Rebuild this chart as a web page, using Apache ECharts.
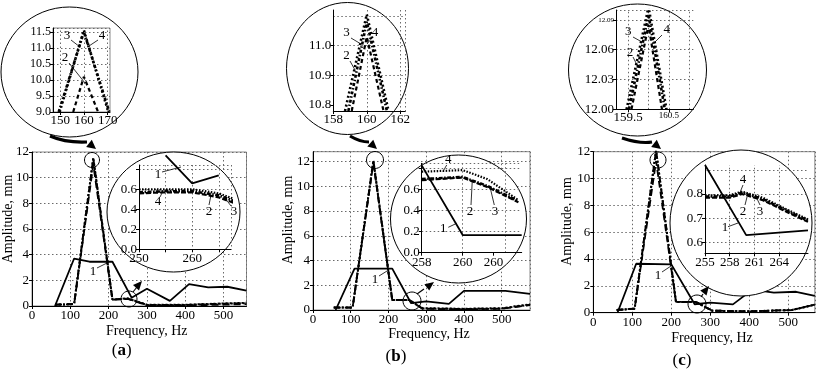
<!DOCTYPE html>
<html><head><meta charset="utf-8">
<script src="https://cdn.jsdelivr.net/npm/echarts@6/dist/echarts.min.js"></script>
<style>html,body{margin:0;padding:0;background:#fff}#c{width:818px;height:371px}</style>
</head><body><div id="c"></div>
<script>
// ---------------- DATA ----------------
// Panel (a) main
const aFreqSolid = [60,110,150,210,260,300,360,410,460,510,560];
const aAmpSolid  = [0,3.7,3.45,3.45,0.65,1.35,0.4,1.7,1.45,1.5,1.2];
const aFreqRes   = [60,110,160,210,250,300,400,500,560];
const aAmp2      = [0.1,0.15,11.0,0.5,0.55,0.05,0.05,0.1,0.15];
const aAmp3      = [0.1,0.15,11.55,0.5,0.6,0.1,0.1,0.2,0.25];
const aAmp4      = [0.1,0.15,11.5,0.5,0.58,0.08,0.08,0.18,0.22];
// Panel (a) top inset
const aTopF3 = [149.8,160,170.3], aTopA3 = [9.0,11.55,9.0];
const aTopF4 = [149.4,160,170.7], aTopA4 = [9.0,11.5,9.0];
const aTopF2 = [155.5,160,166.0], aTopA2 = [9.0,10.1,9.0];
const aTopXTicks = [150,160,170];
// Panel (a) round inset
const aZoomSolidF = [255,260,265], aZoomSolidA = [0.94,0.66,0.74];
const aZoomF  = [250,255,260,265,268];
const aZoom2  = [0.56,0.57,0.57,0.52,0.46];
const aZoom3  = [0.60,0.60,0.60,0.56,0.50];
const aZoom4  = [0.57,0.58,0.58,0.54,0.48];

// Panel (b) main
const bFreqSolid = [60,110,210,260,300,360,400,510,575];
const bAmpSolid  = [0,3.35,3.35,0.55,0.7,0.5,1.55,1.55,1.3];
const bFreqRes   = [55,105,160,210,255,290,400,500,575];
const bAmp2      = [0.2,0.2,11.9,0.8,0.8,0.1,0.05,0.1,0.4];
const bAmp3      = [0.2,0.2,12.1,0.8,0.8,0.15,0.1,0.15,0.45];
const bAmp4      = [0.2,0.2,12.05,0.8,0.8,0.12,0.08,0.12,0.42];
// Panel (b) top inset
const bTopF3 = [158.7,160,161.3], bTopA3 = [10.78,11.105,10.78];
const bTopF4 = [158.9,160,161.2], bTopA4 = [10.78,11.08,10.78];
const bTopF2 = [159.1,160,161.0], bTopA2 = [10.78,11.03,10.78];
const bTopYTicks = [10.8,10.9,11.0];
const bTopYGrid  = [10.9,11.0,11.1];
// Panel (b) round inset (x in tick-index units)
const bZoomTickPos   = [0,1,1.75];
const bZoomTickLabels = ['258','260','260'];
const bZoomXGrid = [1,2.05];
const bZoomSolidX = [0,1,2.44], bZoomSolidA = [0.83,0.168,0.168];
const bZoomX  = [0,1,1.6,2.36];
const bZoom2  = [0.69,0.715,0.625,0.48];
const bZoom3  = [0.70,0.72,0.635,0.49];
const bZoom4  = [0.77,0.785,0.70,0.50];

// Panel (c) main
const cFreqSolid = [62,110,200,260,300,358,408,463,520,568];
const cAmpSolid  = [0,3.65,3.6,0.63,0.75,0.62,1.72,1.5,1.56,1.25];
const cFreqRes   = [60,106,161,212,263,305,400,510,568];
const cAmp2      = [0.2,0.3,11.3,0.8,0.8,0.15,0.1,0.2,0.6];
const cAmp3      = [0.2,0.3,12.1,0.8,0.8,0.15,0.1,0.2,0.6];
const cAmp4      = [0.2,0.3,12.09,0.8,0.8,0.15,0.1,0.2,0.6];
// Panel (c) top inset
const cTopF3 = [159.46,160,160.44], cTopA3 = [12.0,12.103,12.0];
const cTopF4 = [159.52,160,160.40], cTopA4 = [12.0,12.095,12.0];
const cTopF2 = [159.58,160,160.33], cTopA2 = [12.0,12.085,12.0];
const cTopXTicks = [159.5,160,160.5];
const cTopXGrid  = [159.5,160,160.5,161];
// Panel (c) round inset
const cZoomSolidF = [255,260,267.5], cZoomSolidA = [0.92,0.63,0.65];
const cZoomF  = [255,258,259.5,262,265,267.5];
const cZoom2  = [0.785,0.785,0.80,0.775,0.725,0.685];
const cZoom3  = [0.79,0.79,0.805,0.78,0.73,0.69];
const cZoom4  = [0.795,0.795,0.81,0.785,0.735,0.695];
const cZoomXTicks = [255,258,261,264];
const cZoomXGrid  = [258,261,264];
const cZoomYTicks = [0.6,0.7,0.8];
const cZoomYGrid  = [0.6,0.7,0.8,0.9];

// ---------------- BUILD ----------------
const FONT = 'Liberation Serif';
const grids=[], xAxes=[], yAxes=[], series=[], gfx=[];
const GRIDC = '#6a6a6a';

function makeAxis(a, gi, z){
  const ax = {type:'value', gridIndex:gi, min:a.min, max:a.max, z:z,
    axisLine:{show:true, onZero:false, lineStyle:{color:'#000', width:1}},
    axisTick:{show:true, inside:false, length:3, lineStyle:{color:'#000'}},
    axisLabel:{color:'#000', fontFamily:FONT, fontSize:a.fs||13, margin:a.margin!=null?a.margin:3,
               showMinLabel:true, showMaxLabel:a.showMax!==false, hideOverlap:false},
    splitLine:{show:true, lineStyle:{type:[1.5,2.5], color:GRIDC, width:1}}
  };
  if (a.interval!=null) ax.interval=a.interval;
  if (a.ticks){ ax.axisLabel.customValues=a.ticks; ax.axisTick.customValues=a.ticks; ax.splitLine.show=false; }
  if (a.fmt) ax.axisLabel.formatter=a.fmt;
  if (a.rich) ax.axisLabel.rich=a.rich;
  return ax;
}
function plot(o){
  const gi = grids.length;
  grids.push({left:o.l, top:o.t, width:o.w, height:o.h, show:!!o.frame, borderColor:'#8a8a8a',
              borderWidth:1, backgroundColor:'transparent', z:o.z});
  xAxes.push(makeAxis(o.x, gi, o.z));
  yAxes.push(makeAxis(o.y, gi, o.z));
  return gi;
}
function line(gi, xs, ys, style, z, extra){
  series.push(Object.assign({type:'line', xAxisIndex:gi, yAxisIndex:gi,
    data: xs.map((x,i)=>[x, ys[i]]), symbol:'none', lineStyle:style, z:z,
    animation:false, silent:true}, extra||{}));
}
function gridLines(key, vals, key2, vals2){
  const data = vals.map(v=>({[key]:v}));
  if (key2) vals2.forEach(v=>data.push({[key2]:v}));
  return {silent:true, symbol:['none','none'], label:{show:false}, animation:false,
    lineStyle:{type:[1.5,2.5], color:GRIDC, width:1}, data};
}
const S1 = {color:'#000', width:1.8, type:'solid'};
const S2 = {color:'#000', width:1.8, type:[7,4]};
const S3 = {color:'#000', width:2, type:[2,2]};
const S4 = {color:'#000', width:2, type:[6,2,2,2]};
const T3 = {color:'#000', width:2.6, type:[2,2.5]};
const T4 = {color:'#000', width:2.6, type:[3,2,1.5,2]};
const T2 = {color:'#000', width:2.2, type:[4,3]};
const Z3 = {color:'#000', width:2.2, type:[1.5,1.5]};
const Z4 = {color:'#000', width:2.6, type:[4,1.5,1.5,1.5]};
const Z2 = {color:'#000', width:2.2, type:[5,2]};

const fmt1 = v => (+v).toFixed(1);

// graphics helpers
function ell(cx,cy,rx,ry,fill,z,lw){ gfx.push({type:'ellipse', shape:{cx,cy,rx,ry}, style:{fill:fill||'none', stroke:'#000', lineWidth:lw||1}, z:z, silent:true}); }
function txt(x,y,s,size,z,opt){ gfx.push(Object.assign({type:'text', x, y, z:z, silent:true,
  style:Object.assign({text:s, fontFamily:FONT, fontSize:size, fill:'#000', align:'center', verticalAlign:'middle'}, (opt&&opt.style)||{})},
  opt&&opt.rotation!=null?{rotation:opt.rotation}:{})); }
function seg(x1,y1,x2,y2,z,w){ gfx.push({type:'line', shape:{x1,y1,x2,y2}, style:{stroke:'#000', lineWidth:w||0.8}, z:z, silent:true}); }
function arrowHead(tx,ty,fx,fy,len,hw,z){
  const dx=tx-fx, dy=ty-fy, n=Math.hypot(dx,dy), ux=dx/n, uy=dy/n;
  const bx=tx-ux*len, by=ty-uy*len;
  gfx.push({type:'polygon', shape:{points:[[tx,ty],[bx-uy*hw,by+ux*hw],[bx+uy*hw,by-ux*hw]]}, style:{fill:'#000'}, z:z, silent:true});
}
function curve(x1,y1,cx,cy,x2,y2,w,z){ gfx.push({type:'bezierCurve', shape:{x1,y1,x2,y2,cpx1:cx,cpy1:cy}, style:{stroke:'#000', lineWidth:w, fill:'none'}, z:z, silent:true}); }

// ---------- Panel (a) ----------
const ga = plot({l:32, t:152, w:214.5, h:154, frame:true, z:0,
  x:{min:0, max:560, interval:100, showMax:false}, y:{min:0, max:12, interval:2}});
line(ga, aFreqRes, aAmp3, S3, 2);
line(ga, aFreqRes, aAmp4, S4, 2);
line(ga, aFreqRes, aAmp2, S2, 2);
line(ga, aFreqSolid, aAmpSolid, S1, 3);

const gaTop = plot({l:53, t:28, w:57, h:84, frame:true, z:6,
  x:{min:147, max:171, ticks:aTopXTicks, fs:13, margin:2},
  y:{min:9, max:11.62, interval:0.5, fmt:fmt1, fs:12, margin:2, showMax:false}});
line(gaTop, aTopF3, aTopA3, T3, 7, {markLine: gridLines('xAxis', aTopXTicks)});
line(gaTop, aTopF4, aTopA4, T4, 7);
line(gaTop, aTopF2, aTopA2, T2, 7);

const gaZ = plot({l:139, t:165, w:92, h:84.3, frame:false, z:6,
  x:{min:250, max:267.3, interval:5, fmt:v=> (v%10===0? String(v):''), fs:13, margin:3, showMax:false},
  y:{min:0, max:0.843, interval:0.2, fmt:v=> (v>0.7?'':fmt1(v)), fs:13, margin:2, showMax:false}});
line(gaZ, aZoomF, aZoom3, Z3, 7);
line(gaZ, aZoomF, aZoom4, Z4, 7);
line(gaZ, aZoomF, aZoom2, Z2, 7);
line(gaZ, aZoomSolidF, aZoomSolidA, S1, 8, {clip:false});

// ---------- Panel (b) ----------
const gb = plot({l:313, t:151.7, w:217, h:158.3, frame:true, z:0,
  x:{min:0, max:575, interval:100, showMax:false}, y:{min:0, max:12.8, interval:2, showMax:false}});
line(gb, bFreqRes, bAmp3, S3, 2);
line(gb, bFreqRes, bAmp4, S4, 2);
line(gb, bFreqRes, bAmp2, S2, 2);
line(gb, bFreqSolid, bAmpSolid, S1, 3);

const gbTop = plot({l:333.3, t:10, w:72, h:101, frame:false, z:6,
  x:{min:158, max:162.3, interval:2, fs:13, margin:2, showMax:false},
  y:{min:10.78, max:11.12, ticks:bTopYTicks, fmt:fmt1, fs:13, margin:2}});
line(gbTop, bTopF3, bTopA3, T3, 7, {markLine: gridLines('yAxis', bTopYGrid)});
line(gbTop, bTopF4, bTopA4, T4, 7);
line(gbTop, bTopF2, bTopA2, T2, 7);

const gbZ = plot({l:421.7, t:163.3, w:100, h:89.4, frame:false, z:6,
  x:{min:0, max:2.44, ticks:bZoomTickPos, fmt:v=>{const i=bZoomTickPos.indexOf(+v); return i>=0?bZoomTickLabels[i]:'';}, fs:13, margin:3},
  y:{min:0, max:0.85, interval:0.2, fmt:v=> (v>0.7?'':fmt1(v)), fs:13, margin:2, showMax:false}});
line(gbZ, bZoomX, bZoom4, Z3, 7, {markLine: gridLines('xAxis', bZoomXGrid)});
line(gbZ, bZoomX, bZoom3, Z4, 7);
line(gbZ, bZoomX, bZoom2, Z2, 7);
line(gbZ, bZoomSolidX, bZoomSolidA, S1, 8);

// ---------- Panel (c) ----------
const gc = plot({l:593.3, t:151.7, w:221.5, h:161, frame:true, z:0,
  x:{min:0, max:568, interval:100, showMax:false}, y:{min:0, max:12, interval:2}});
line(gc, cFreqRes, cAmp3, S3, 2);
line(gc, cFreqRes, cAmp4, S4, 2);
line(gc, cFreqRes, cAmp2, S2, 2);
line(gc, cFreqSolid, cAmpSolid, S1, 3);

const gcTop = plot({l:616, t:10, w:77.3, h:99.3, frame:false, z:6,
  x:{min:159.2, max:161.1, ticks:cTopXTicks, fs:13, margin:2,
     fmt:v=> (+v===160.5? '{s|160.5}' : String(v)), rich:{s:{fontSize:9, fontFamily:FONT, color:'#000'}}},
  y:{min:12.0, max:12.1, interval:0.03, fs:13, margin:2, showMax:false,
     fmt:v=> { const s=(+v).toFixed(2); return s==='12.09' ? '{s|12.09}' : s; }, rich:{s:{fontSize:7, fontFamily:FONT, color:'#000'}}}});
line(gcTop, cTopF3, cTopA3, T3, 7, {markLine: gridLines('xAxis', cTopXGrid)});
line(gcTop, cTopF4, cTopA4, T4, 7);
line(gcTop, cTopF2, cTopA2, T2, 7);

const gcZ = plot({l:705, t:165, w:103, h:88.3, frame:false, z:6,
  x:{min:255, max:267.5, ticks:cZoomXTicks, fs:13, margin:3},
  y:{min:0.555, max:0.92, ticks:cZoomYTicks, fmt:fmt1, fs:13, margin:2}});
line(gcZ, cZoomF, cZoom4, Z3, 7, {markLine: gridLines('yAxis', cZoomYGrid, 'xAxis', cZoomXGrid)});
line(gcZ, cZoomF, cZoom3, Z4, 7);
line(gcZ, cZoomF, cZoom2, Z2, 7);
line(gcZ, cZoomSolidF, cZoomSolidA, S1, 8);

// ---------- Decorations ----------
// magnifier circles (white filled, behind insets)
ell(69.5, 72, 68.5, 65, '#fff', 5, 1);
ell(347.5, 68.5, 61, 66, '#fff', 5, 1);
ell(637.5, 70, 69, 66, '#fff', 5, 1);
ell(173.5, 212, 66.5, 60, '#fff', 5, 1);
ell(458.5, 219, 68, 64, '#fff', 5, 1);
ell(741, 223, 71, 73, '#fff', 5, 1);
// small circles on main curves
ell(92, 160, 7.5, 7.5, null, 4, 1);
ell(129, 299, 8, 8, null, 4, 1);
ell(375, 160, 8.5, 8.5, null, 4, 1);
ell(412, 301, 9, 9, null, 4, 1);
ell(658, 160, 8, 8, null, 4, 1);
ell(697, 304, 9, 9, null, 4, 1);
// arrows from top magnifiers to peaks
curve(50,136, 66,143, 87,142, 3.2, 9); arrowHead(96,149, 86,141, 9, 4.5, 9);
curve(350,136, 360,142, 369,142, 3.2, 9); arrowHead(377,149, 368,141, 9, 4.5, 9);
curve(622,138, 640,144, 652,142, 3.2, 9); arrowHead(661,149, 651,141, 9, 4.5, 9);
// arrows from low circles to round insets
seg(133,292, 137,287, 9, 1.2); arrowHead(142,281, 134,290, 9, 4, 9);
seg(417,294, 424,289, 9, 1.2); arrowHead(434,282, 422,291, 9, 4, 9);
seg(701,297, 703,294, 9, 1.2); arrowHead(709,286, 701,296, 9, 4, 9);

// curve labels - main plots
txt(93,272,'1',13,10); seg(97,268,109,262,10);
txt(375,280,'1',13,10); seg(379,276,387,271,10);
txt(658,276,'1',13,10); seg(662,272,671,266,10);
// top insets
txt(67,36,'3',13,10); seg(71,40,80,47,10);
txt(102,36,'4',13,10); seg(98,40,89,46,10);
txt(65,58,'2',13,10); seg(69,63,85,83,10);
txt(346.5,33,'3',13,10); seg(351,38,361,44,10);
txt(375,33,'4',13,10); seg(372,38,367,44,10);
txt(346.5,56,'2',13,10); seg(350,61,355,70,10);
txt(628.3,32,'3',13,10); seg(633,37,642,42,10);
txt(666.7,30,'4',13,10); seg(662,35,655,42,10);
txt(630,53,'2',13,10); seg(633,57,638,67,10);
// round insets
txt(158,175,'1',13,10); seg(162,172,181,167,10);
txt(158,202,'4',13,10); seg(160,197,162,193,10);
txt(209,212,'2',13,10); seg(209,205,211,195,10);
txt(234,212,'3',13,10); seg(231,206,225,198,10);
txt(448.3,160,'4',13,10); seg(446.7,165,443,171.5,10);
txt(470,212,'2',13,10); seg(471,205,472.3,180,10);
txt(495,212,'3',13,10); seg(494.3,205,490,187,10);
txt(443.3,228.5,'1',13,10); seg(448.3,227.3,456.7,223.3,10);
txt(743,180,'4',13,10); seg(743,185,740,192.5,10);
txt(743,212,'2',13,10); seg(745,205,747,197,10);
txt(760,212,'3',13,10); seg(760,205,756.7,198,10);
txt(725,228,'1',13,10); seg(728,226.7,738,223,10);

// axis titles
txt(146.7,331,'Frequency, Hz',14,10);
txt(429,334,'Frequency, Hz',14,10);
txt(712,338,'Frequency, Hz',14,10);
txt(8.3,219,'Amplitude, mm',14,10,{rotation:Math.PI/2});
txt(288,220,'Amplitude, mm',14,10,{rotation:Math.PI/2});
txt(567.5,221.5,'Amplitude, mm',14,10,{rotation:Math.PI/2});
// panel captions
const capRich = {b:{fontWeight:'bold', fontFamily:FONT, fontSize:17}};
txt(121.7,351,'({b|a})',17,10,{style:{rich:capRich}});
txt(396,357,'({b|b})',17,10,{style:{rich:capRich}});
txt(682,361,'({b|c})',17,10,{style:{rich:capRich}});

const chart = echarts.init(document.getElementById('c'), null, {renderer:'canvas'});
chart.setOption({
  animation:false, backgroundColor:'#fff',
  textStyle:{fontFamily:FONT},
  grid:grids, xAxis:xAxes, yAxis:yAxes, series:series,
  graphic:{elements:gfx}
});
</script></body></html>
